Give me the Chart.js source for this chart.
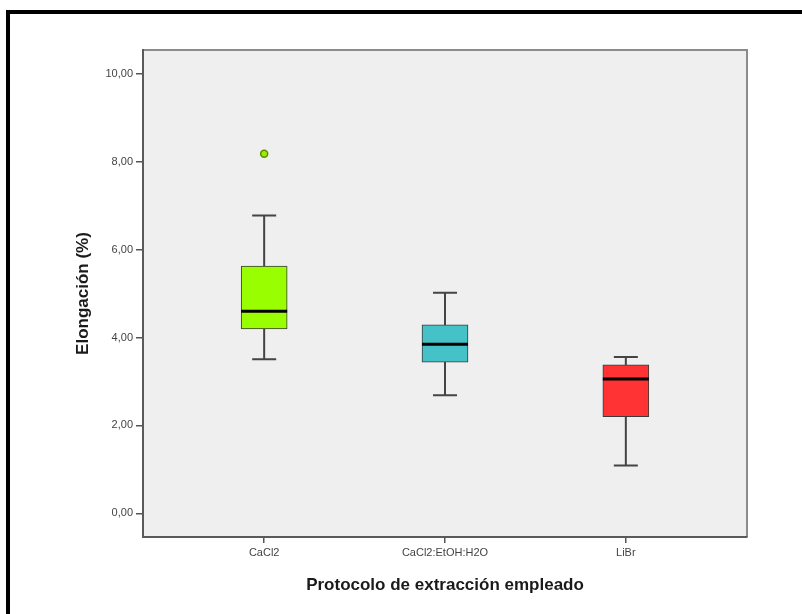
<!DOCTYPE html>
<html><head><meta charset="utf-8">
<script src="https://cdn.jsdelivr.net/npm/chart.js@4/dist/chart.umd.min.js"></script>
<style>html,body{margin:0;padding:0;background:#fff}</style>
</head><body>
<canvas id="c" width="802" height="614"></canvas>
<script>
// ---- data ----
const categories = ['CaCl2', 'CaCl2:EtOH:H2O', 'LiBr'];
const whiskerLow = [3.51, 2.69, 1.09];
const q1 = [4.20, 3.44, 2.20];
const median = [4.60, 3.85, 3.06];
const q3 = [5.63, 4.29, 3.38];
const whiskerHigh = [6.78, 5.02, 3.56];
const outlierCategory = [0];
const outlierValue = [8.19];
const yTickValues = [0, 2, 4, 6, 8, 10];

// ---- styles ----
const boxColors = ['#99ff00', '#45c2c8', '#ff3333'];
const FONT = 'Liberation Sans, Arial, sans-serif';
const BOX_W = 46, CAP_W = 24;

const boxPlugin = {
  id: 'boxPlugin',
  beforeDraw(chart) {
    const {ctx, chartArea: a} = chart;
    ctx.save();
    ctx.fillStyle = '#fff';
    ctx.fillRect(0, 0, chart.width, chart.height);
    ctx.fillStyle = '#000';
    ctx.fillRect(6, 10, chart.width - 6, 4);
    ctx.fillRect(6, 10, 4, chart.height - 10);
    ctx.fillStyle = '#efefef';
    ctx.fillRect(a.left, a.top, a.right - a.left, a.bottom - a.top);
    ctx.strokeStyle = '#8c8c8c';
    ctx.lineWidth = 2;
    ctx.beginPath();
    ctx.moveTo(a.left, a.top);
    ctx.lineTo(a.right, a.top);
    ctx.lineTo(a.right, a.bottom);
    ctx.stroke();
    ctx.restore();
  },
  beforeDatasetsDraw(chart) {
    const {ctx, scales: {x, y}} = chart;
    ctx.save();
    ctx.strokeStyle = '#444';
    ctx.lineWidth = 2;
    categories.forEach((c, i) => {
      const px = x.getPixelForValue(i);
      const lo = y.getPixelForValue(whiskerLow[i]);
      const hi = y.getPixelForValue(whiskerHigh[i]);
      ctx.beginPath();
      ctx.moveTo(px, lo); ctx.lineTo(px, hi);
      ctx.moveTo(px - CAP_W / 2, lo); ctx.lineTo(px + CAP_W / 2, lo);
      ctx.moveTo(px - CAP_W / 2, hi); ctx.lineTo(px + CAP_W / 2, hi);
      ctx.stroke();
    });
    ctx.restore();
  },
  afterDatasetsDraw(chart) {
    const {ctx, scales: {x, y}} = chart;
    ctx.save();
    ctx.strokeStyle = '#000';
    ctx.lineWidth = 3;
    categories.forEach((c, i) => {
      const px = x.getPixelForValue(i);
      const m = y.getPixelForValue(median[i]);
      ctx.beginPath();
      ctx.moveTo(px - BOX_W / 2, m); ctx.lineTo(px + BOX_W / 2, m);
      ctx.stroke();
    });
    ctx.restore();
  }
};

new Chart(document.getElementById('c'), {
  type: 'bar',
  data: {
    datasets: [
      {
        type: 'bar',
        data: categories.map((c, i) => ({x: i, y: [q1[i], q3[i]]})),
        backgroundColor: boxColors,
        borderColor: '#3a3a3a',
        borderWidth: 1,
        borderSkipped: false,
        barThickness: BOX_W,
        grouped: false
      },
      {
        type: 'scatter',
        data: outlierCategory.map((c, k) => ({x: c, y: outlierValue[k]})),
        pointRadius: 3.5,
        pointBackgroundColor: '#99ee00',
        pointBorderColor: '#5f8a00',
        pointBorderWidth: 1.5
      }
    ]
  },
  options: {
    responsive: false,
    animation: false,
    devicePixelRatio: 1,
    layout: {padding: {left: 68, right: 55, top: 50, bottom: 0}},
    plugins: {legend: {display: false}, tooltip: {enabled: false}},
    scales: {
      x: {
        type: 'linear',
        offset: false,
        min: -0.67, max: 2.67,
        afterFit(s) { s.height = 77; },
        afterBuildTicks(s) { s.ticks = categories.map((c, i) => ({value: i})); },
        ticks: {
          callback: (v) => categories[v],
          font: {family: FONT, size: 11},
          color: '#444',
          padding: 3,
          maxRotation: 0,
          autoSkip: false
        },
        grid: {offset: false, drawOnChartArea: false, tickLength: 6, color: '#555', lineWidth: 1.5},
        border: {color: '#5a5a5a', width: 2},
        title: {
          display: true,
          text: 'Protocolo de extracción empleado',
          font: {family: FONT, size: 17, weight: 'bold'},
          color: '#1a1a1a',
          padding: {top: 0, bottom: 18}
        }
      },
      y: {
        type: 'linear',
        min: -0.54, max: 10.55,
        afterFit(s) { s.width = 75; },
        afterBuildTicks(s) { s.ticks = yTickValues.map(v => ({value: v})); },
        ticks: {
          callback: (v) => v.toFixed(2).replace('.', ','),
          font: {family: FONT, size: 11},
          color: '#444',
          padding: 3
        },
        grid: {drawOnChartArea: false, tickLength: 7, color: '#555', lineWidth: 1.5},
        border: {color: '#5a5a5a', width: 2},
        title: {
          display: true,
          text: 'Elongación (%)',
          font: {family: FONT, size: 17, weight: 'bold'},
          color: '#1a1a1a',
          padding: {top: 5, bottom: 0}
        }
      }
    }
  },
  plugins: [boxPlugin]
});
</script>
</body></html>
